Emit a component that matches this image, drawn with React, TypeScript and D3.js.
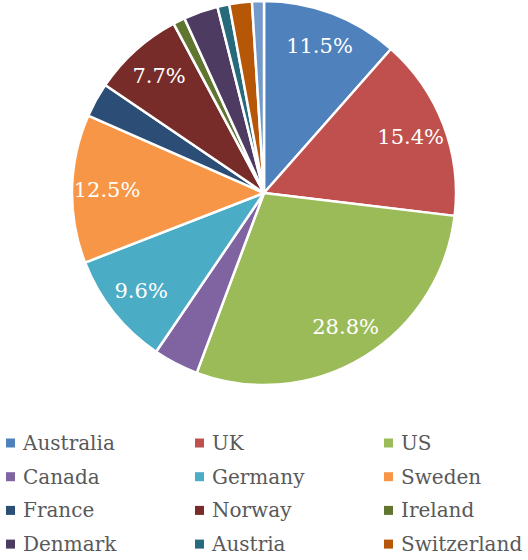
import React from "react";
import * as d3 from "d3";

const categories = [
  "Australia", "UK", "US", "Canada", "Germany", "Sweden",
  "France", "Norway", "Ireland", "Denmark", "Austria", "Switzerland", "Other",
];
const shares = [11.5, 15.4, 28.8, 3.8, 9.6, 12.5, 2.9, 7.7, 1.0, 2.9, 1.0, 1.9, 1.0];
const colors = [
  "#4F81BD", "#C0504D", "#9BBB59", "#8064A2", "#4BACC6", "#F79646",
  "#2C4D75", "#772C2A", "#5F7530", "#4D3B62", "#276A7C", "#B65708", "#729ACA",
];
// legend entries visible in the reference (the rest is clipped by the frame)
const legendCategories = categories.slice(0, 12);

const W = 528;
const H = 560;
const cx = 264;
const cy = 193;
const R = 192;
const labelR = 157;
const FONT = "'DejaVu Serif', serif";

export default function App() {
  const pie = d3.pie<number>().sort(null).value((d) => d);
  const arcs = pie(shares);
  const arcGen = d3.arc<d3.PieArcDatum<number>>().innerRadius(0).outerRadius(R);
  const labelArc = d3.arc<d3.PieArcDatum<number>>().innerRadius(labelR).outerRadius(labelR);
  const color = d3.scaleOrdinal<string, string>().domain(categories).range(colors);
  const total = d3.sum(shares);

  const colX = d3.scalePoint<number>().domain([0, 1, 2]).range([6, 384]);
  const rowY = d3.scaleLinear().domain([0, 1]).range([443, 476.7]);

  return (
    <div style={{ position: "absolute", left: 0, top: 0 }}>
      <svg width={W} height={H} style={{ display: "block", background: "#fff" }}>
        <g transform={`translate(${cx},${cy})`}>
          {arcs.map((a, i) => (
            <path
              key={categories[i]}
              d={arcGen(a) || ""}
              fill={color(categories[i])}
              stroke="#fff"
              strokeWidth={2.5}
              strokeLinejoin="round"
            />
          ))}
          {arcs.map((a, i) => {
            const pct = (a.value / total) * 100;
            if (pct < 5) return null;
            const [lx, ly] = labelArc.centroid(a);
            return (
              <text
                key={"l" + categories[i]}
                x={lx}
                y={ly}
                textAnchor="middle"
                dominantBaseline="central"
                fill="#fff"
                fontFamily={FONT}
                fontSize={21}
              >
                {pct.toFixed(1) + "%"}
              </text>
            );
          })}
        </g>
        <g>
          {legendCategories.map((c, i) => {
            const col = i % 3;
            const row = Math.floor(i / 3);
            const x = colX(col) as number;
            const y = rowY(row);
            return (
              <g key={"lg" + c} transform={`translate(${x},${y})`}>
                <rect x={0} y={-4.5} width={9} height={9} fill={color(c)} />
                <text
                  x={17}
                  y={0}
                  dominantBaseline="central"
                  fill="#595959"
                  fontFamily={FONT}
                  fontSize={20}
                >
                  {c}
                </text>
              </g>
            );
          })}
        </g>
      </svg>
    </div>
  );
}
